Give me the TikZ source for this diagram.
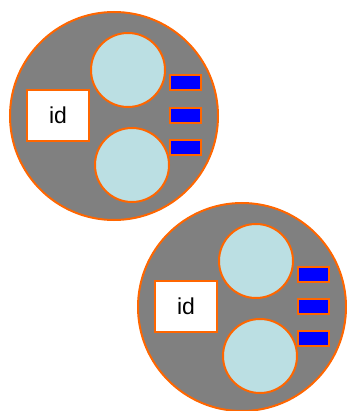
\documentclass[tikz,border=0pt]{standalone}
\usepackage{fontspec}
\setmainfont{Liberation Sans}
\definecolor{ring}{HTML}{FF6600}
\definecolor{bodygray}{HTML}{808080}
\definecolor{wheel}{HTML}{BBDFE3}
\definecolor{led}{HTML}{0000FF}
\tikzset{
  outer/.style={circle, draw=ring, fill=bodygray, line width=2pt, minimum size=208pt, inner sep=0pt},
  inner/.style={circle, draw=ring, fill=wheel, line width=2pt, minimum size=74pt, inner sep=0pt},
  idbox/.style={rectangle, draw=ring, fill=white, line width=2pt, minimum width=62pt, minimum height=51pt, inner sep=0pt, font=\fontsize{23}{23}\selectfont},
  ledbox/.style={rectangle, draw=ring, fill=led, line width=2pt, minimum width=31pt, minimum height=15pt, inner sep=0pt}
}
\begin{document}
\begin{tikzpicture}[x=1pt,y=-1pt]
\useasboundingbox (0,0) rectangle (346,411);
\foreach \dx/\dy/\n in {0/0/a,128/191/b}{
  \begin{scope}[shift={(\dx,\dy)}]
    \node[outer] (\n-body) at (114,116) {};
    \node[inner] (\n-top) at (128,70) {};
    \node[inner] (\n-bot) at (132,165) {};
    \node[idbox] (\n-id) at (58,115.5) {id};
    \node[ledbox] (\n-l1) at (185.5,83) {};
    \node[ledbox] (\n-l2) at (185.5,115.5) {};
    \node[ledbox] (\n-l3) at (185.5,147.5) {};
  \end{scope}
}
\end{tikzpicture}
\end{document}
